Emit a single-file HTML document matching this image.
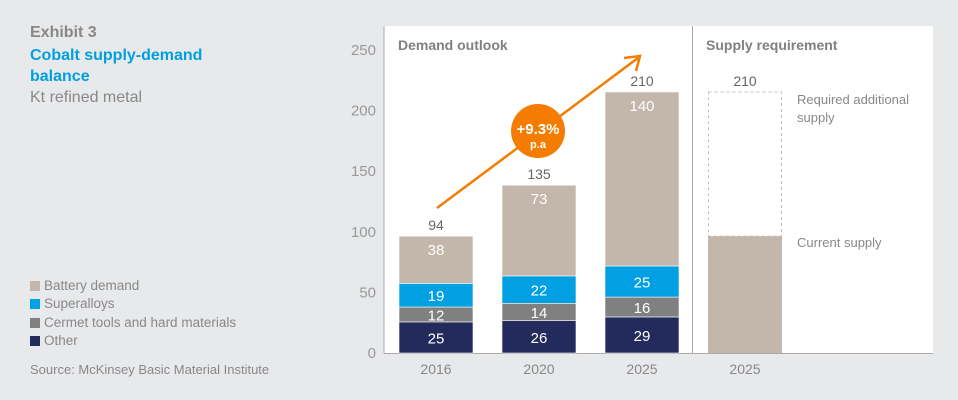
<!DOCTYPE html>
<html><head><meta charset="utf-8"><style>
body{margin:0;background:#e8e9eb;font-family:"Liberation Sans",sans-serif;}
#wrap{position:relative;width:958px;height:400px;overflow:hidden;background:#e8e9eb;}
.t{position:absolute;white-space:nowrap;}
</style></head><body>
<div id="wrap">
<div class="t" style="left:30px;top:24px;font-size:16px;font-weight:bold;color:#888;">Exhibit 3</div>
<div class="t" style="left:30px;top:45px;font-size:16px;font-weight:bold;color:#00a0e0;line-height:21px;">Cobalt supply-demand<br>balance</div>
<div class="t" style="left:30px;top:89px;font-size:16px;color:#888;">Kt refined metal</div>
<div id="legend"></div>
<div class="t" style="left:30px;top:362px;font-size:13px;color:#888;">Source: McKinsey Basic Material Institute</div>
<svg id="chart" width="958" height="400" style="position:absolute;left:0;top:0;font-family:'Liberation Sans',sans-serif;"></svg>
</div>
<script>
const categories=["2016","2020","2025"];
const seriesNames=["Other","Cermet tools and hard materials","Superalloys","Battery demand"];
const other=[25,26,29];
const cermet=[12,14,16];
const superalloys=[19,22,25];
const battery=[38,73,140];
const totals=[94,135,210];
const yTicks=[0,50,100,150,200,250];
const supplyCategory=["2025"];
const currentSupply=[94];
const requiredTotal=[210];
const growthLabel="+9.3%";

const colors=["#232a5c","#808080","#00a0e2","#c3b6aa"];
const NS="http://www.w3.org/2000/svg";
const svg=document.getElementById('chart');
const y0=353, pxPer=1.243, tickPx=303/250;
function y(v){return y0-v*pxPer;}
function yt(v){return y0-v*tickPx;}
const barX=[399,502,605], barW=74;
function xBar(i){return barX[0]+i*(barX[1]-barX[0]);}
function el(tag,attrs,parent){const e=document.createElementNS(NS,tag);for(const k in attrs)e.setAttribute(k,attrs[k]);(parent||svg).appendChild(e);return e;}
function txt(s,attrs){const e=el('text',attrs);e.textContent=s;return e;}

let p=el('rect',{x:384,y:26,width:308,height:327,fill:'#fff'});

p=el('rect',{x:693,y:26,width:240,height:327,fill:'#fff'});

let l=el('line',{x1:384,y1:26,x2:384,y2:353,stroke:'#aaa','stroke-width':1});

l=el('line',{x1:692.5,y1:26,x2:692.5,y2:353,stroke:'#aaa','stroke-width':1});

l=el('line',{x1:384,y1:353.5,x2:933,y2:353.5,stroke:'#aaa','stroke-width':1});


let t=txt('Demand outlook',{x:398,y:50,'font-size':14,fill:'#808080','font-weight':'bold'});

t=txt('Supply requirement',{x:706,y:50,'font-size':14,fill:'#808080','font-weight':'bold'});


yTicks.forEach(v=>{const e=txt(String(v),{x:376,y:yt(v)+5,'font-size':15,fill:'#999','text-anchor':'end'});
});

const stacks=[other,cermet,superalloys,battery];
categories.forEach((c,i)=>{
  let base=0;const cx=xBar(i)+barW/2;
  stacks.forEach((s,k)=>{
    const r=el('rect',{x:xBar(i),y:y(base+s[i]),width:barW,height:s[i]*pxPer,fill:colors[k],stroke:'#fff','stroke-width':0.6});
    
    const ly=k===3?y(base+s[i])+19:y(base+s[i]/2)+6;
    const e=txt(String(s[i]),{x:cx,y:ly,'font-size':15,fill:'#fff','text-anchor':'middle'});
    
    base+=s[i];
  });
  let e=txt(String(totals[i]),{x:cx,y:y(base)-6,'font-size':14,fill:'#666','text-anchor':'middle'});
  
  e=txt(c,{x:cx,y:374,'font-size':14,fill:'#888','text-anchor':'middle'});
  
});

const sx=708, scx=sx+barW/2;
let r=el('rect',{x:sx+0.5,y:y(requiredTotal[0]),width:barW-1,height:(requiredTotal[0]-currentSupply[0])*pxPer,fill:'none',stroke:'#c9bdb1','stroke-width':1,'stroke-dasharray':'3,3'});

r=el('rect',{x:sx,y:y(currentSupply[0]),width:barW,height:currentSupply[0]*pxPer,fill:'#c3b6aa'});

t=txt(String(requiredTotal[0]),{x:scx,y:y(requiredTotal[0])-6,'font-size':14,fill:'#666','text-anchor':'middle'});

t=txt(supplyCategory[0],{x:scx,y:374,'font-size':14,fill:'#888','text-anchor':'middle'});

t=txt('Required additional',{x:797,y:104,'font-size':13,fill:'#888'});

t=txt('supply',{x:797,y:122,'font-size':13,fill:'#888'});

t=txt('Current supply',{x:797,y:247,'font-size':13,fill:'#888'});


l=el('line',{x1:437,y1:208,x2:638,y2:58,stroke:'#f47c00','stroke-width':2.5});

l=el('polyline',{points:'624,58 640,56 636,71',fill:'none',stroke:'#f47c00','stroke-width':2.5});

let c=el('circle',{cx:538,cy:131,r:27,fill:'#f47c00'});

t=txt(growthLabel,{x:538,y:134,'font-size':15,fill:'#fff','font-weight':'bold','text-anchor':'middle'});

t=txt('p.a',{x:538,y:148,'font-size':11,fill:'#fff','font-weight':'bold','text-anchor':'middle'});


const lg=document.getElementById('legend');
const legOrder=[3,2,1,0];
legOrder.forEach((k,j)=>{
  const d=document.createElement('div');
  
  
  d.className='t';
  d.style.cssText='left:30px;top:'+(278+j*18.3)+'px;font-size:13.5px;color:#888;';
  d.innerHTML='<span style="display:inline-block;width:10px;height:10px;background:'+colors[k]+';margin-right:4px;vertical-align:-1px"></span>'+seriesNames[k];
  lg.appendChild(d);
});
</script>
</body></html>
